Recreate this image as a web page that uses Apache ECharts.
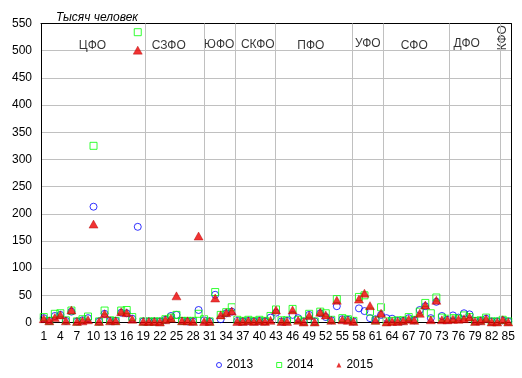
<!DOCTYPE html>
<html><head><meta charset="utf-8">
<script src="https://cdn.jsdelivr.net/npm/echarts@6/dist/echarts.min.js"></script>
<style>html,body{margin:0;padding:0;background:#fff}#c{width:522px;height:378px}</style>
</head><body><div id="c"></div>
<script>
const categories = ['1','2','3','4','5','6','7','8','9','10','11','12','13','14','15','16','17','18','19','20',
'21','22','23','24','25','26','27','28','29','30','31','32','33','34','35','36','37','38','39','40',
'41','42','43','44','45','46','47','48','49','50','51','52','53','54','55','56','57','58','59','60',
'61','62','63','64','65','66','67','68','69','70','71','72','73','74','75','76','77','78','79','80',
'81','82','83','84','85'];

const s2013 = [8,3,12,14,3,20,2,4,8,213, 2,16,3,3,18,17,7,176,2,2,
 2,2,5,12,14,3,2,2,23,4, 2,51,6,17,20,3,2,3,2,3,
 2,9,18,2,3,14,8,2,14,2, 17,10,4,30,6,5,2,26,21,8,
 6,14,8,7,3,3,8,4,23,30, 8,38,12,5,13,9,17,15,3,3,
 7,2,2,4,2];
const s2014 = [10,3,16,17,4,22,2,6,11,325, 2,22,4,3,22,23,10,534,2,2,
 2,2,6,9,14,3,3,3,16,6, 2,56,14,19,28,5,3,5,3,5,
 3,12,24,4,4,25,5,2,16,2, 20,17,5,43,8,6,3,47,50,20,
 4,28,2,3,4,4,10,5,20,36, 17,46,9,7,8,7,13,10,3,4,
 9,2,2,5,2];
const s2015 = [7,3,9,14,3,23,2,3,5,181, 2,16,3,3,20,18,6,501,2,2,
 2,1,5,8,49,3,3,2,159,2, 2,45,14,18,21,2,2,3,2,3,
 2,4,23,2,2,23,4,1,13,1, 19,14,4,41,5,4,2,43,54,31,
 4,17,1,2,2,3,6,4,17,32, 5,41,5,5,6,6,7,10,2,3,
 7,1,1,5,1];

const seriesNames = ['2013','2014','2015'];
const yMin = 0, yMax = 550, yStep = 50;

// district labels (position on a continuous category scale) and separators
const districtNames = ['ЦФО','СЗФО','ЮФО','СКФО','ПФО','УФО','СФО','ДФО','КФО'];
const districtX     = [9.8, 23.6, 32.7, 39.7, 49.3, 59.6, 68.0, 77.5, 84.05];
const districtY     = [510, 510, 511, 511, 510, 512, 510, 512, 524];
const separatorX    = [19.43, 29.98, 35.71, 42.93, 56.87, 62.41, 74.34, 83.51];

const FONT = 'Liberation Sans, Arial, sans-serif';

const chart = echarts.init(document.getElementById('c'), null, {renderer:'canvas'});

const districtData = districtNames.map((n,i)=>{
  const d = {name:n, value:[districtX[i], districtY[i]]};
  if (n === 'КФО') d.label = {rotate: 90};
  return d;
});

chart.setOption({
  animation: false,
  backgroundColor: '#fff',
  title: {
    text: 'Тысяч человек', left: 51, top: 7,
    textStyle: {fontFamily: FONT, fontSize: 12, fontStyle: 'italic', fontWeight: 'normal', color: '#000'}
  },
  grid: {left: 41, right: 11, top: 23.5, bottom: 55.5, containLabel: false},
  legend: {
    data: [
      {name:'2013', icon:'circle', itemStyle:{color:'rgba(0,0,0,0)', borderColor:'#0000ff', borderWidth:1}},
      {name:'2014', icon:'rect', itemStyle:{color:'rgba(0,0,0,0)', borderColor:'#00ff00', borderWidth:1}},
      {name:'2015', icon:'triangle', itemStyle:{color:'#e00000', borderWidth:0}}
    ],
    left: 211, top: 354, itemWidth: 5, itemHeight: 5, itemGap: 23,
    textStyle: {fontFamily: FONT, fontSize: 12, color: '#000'}
  },
  xAxis: [
    {
      type: 'category', data: categories, boundaryGap: true,
      axisLine: {show: true, lineStyle: {color: '#000', width: 1}},
      axisTick: {show: false},
      axisLabel: {interval: 2, margin: 8, fontFamily: FONT, fontSize: 12, color: '#000'},
      splitLine: {show: false}
    },
    {
      type: 'value', min: 0.5, max: 85.5, position: 'top',
      axisLine: {show: true, onZero: false, lineStyle: {color: '#000', width: 1}},
      axisTick: {show: false}, axisLabel: {show: false}, splitLine: {show: false}
    }
  ],
  yAxis: [
    {
      type: 'value', min: yMin, max: yMax, interval: yStep,
      axisLine: {show: true, lineStyle: {color: '#000', width: 1}},
      axisTick: {show: false},
      axisLabel: {margin: 9, fontFamily: FONT, fontSize: 12, color: '#000'},
      splitLine: {show: true, lineStyle: {color: '#c0c0c0', width: 1}}
    },
    {
      type: 'value', min: yMin, max: yMax, interval: yStep, position: 'right',
      axisLine: {show: true, lineStyle: {color: '#000', width: 1}},
      axisTick: {show: false}, axisLabel: {show: false}, splitLine: {show: false}
    }
  ],
  series: [
    {
      name: 'separators', type: 'scatter', xAxisIndex: 1, yAxisIndex: 0, data: [], z: 1, silent: true,
      markLine: {
        silent: true, symbol: 'none', animation: false,
        label: {show: false},
        lineStyle: {color: '#c0c0c0', width: 1, type: 'solid'},
        emphasis: {disabled: true},
        data: separatorX.map(v => ({xAxis: v}))
      }
    },
    {
      name: 'districts', type: 'scatter', xAxisIndex: 1, yAxisIndex: 0, z: 2, silent: true,
      symbolSize: 1, itemStyle: {color: 'rgba(0,0,0,0)'},
      label: {show: true, formatter: '{b}', position: 'inside', fontFamily: FONT, fontSize: 12, color: '#000'},
      data: districtData
    },
    {
      name: seriesNames[0], type: 'scatter', data: s2013, z: 3,
      symbol: 'circle', symbolSize: 7,
      itemStyle: {color: 'rgba(0,0,0,0)', borderColor: '#0000ff', borderWidth: 1}
    },
    {
      name: seriesNames[1], type: 'scatter', data: s2014, z: 4,
      symbol: 'rect', symbolSize: 7,
      itemStyle: {color: 'rgba(0,0,0,0)', borderColor: '#00ff00', borderWidth: 1}
    },
    {
      name: seriesNames[2], type: 'scatter', data: s2015, z: 5,
      symbol: 'triangle', symbolSize: [9, 8],
      itemStyle: {color: '#ee0000', borderColor: '#b00000', borderWidth: 0.5}
    }
  ]
});
</script>
</body></html>
